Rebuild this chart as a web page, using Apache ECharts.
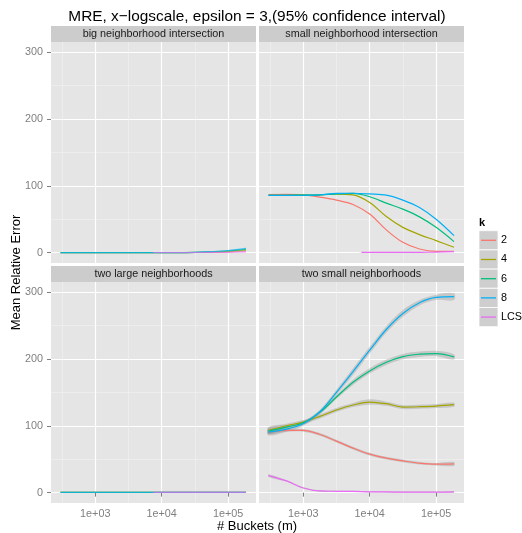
<!DOCTYPE html>
<html><head><meta charset="utf-8">
<script src="https://cdn.jsdelivr.net/npm/echarts@6/dist/echarts.min.js"></script>
<style>html,body{margin:0;padding:0;background:#fff}#c{width:522px;height:533px}</style>
</head><body><div id="c"></div>
<script>
// ---------------- data ----------------
const buckets = [300, 560, 1000, 1780, 3160, 5620, 10000, 17800, 31600, 56200, 100000, 186000];
const lcsBucketsPartial = [7500, 10000, 17800, 31600, 56200, 100000, 186000];
const kLevels = ['2', '4', '6', '8', 'LCS'];
const panelNames = ['big neighborhood intersection', 'small neighborhood intersection', 'two large neighborhoods', 'two small neighborhoods'];
const xTickValues = [1000, 10000, 100000];
const xTickLabels = ['1e+03', '1e+04', '1e+05'];
const xMinorBreaks = [316.2, 3162, 31623];
const yTickValues = [0, 100, 200, 300];
const yTickLabels = ['0', '100', '200', '300'];
const yMinorBreaks = [50, 150, 250];

// big neighborhood intersection
const bigInt_2   = [0, 0, 0, 0, 0, 0, 0, 0.1, 0.2, 0.5, 1.2, 2.5];
const bigInt_4   = [0, 0, 0, 0, 0, 0, 0, 0.1, 0.3, 1.0, 2.0, 4.0];
const bigInt_6   = [0, 0, 0, 0, 0, 0, 0, 0.1, 0.4, 1.2, 2.6, 5.0];
const bigInt_8   = [0, 0, 0, 0, 0, 0, 0, 0.1, 0.5, 1.5, 3.2, 6.5];
const bigInt_LCS = [0.2, 0.2, 0.2, 0.2, 0.3, 0.5, 1.0];
// small neighborhood intersection
const smallInt_2   = [86.7, 87, 86.5, 83, 78.6, 72, 57.7, 34, 15.4, 5.5, 2, 2];
const smallInt_4   = [85.6, 85.8, 86, 86.5, 87.5, 86.5, 75, 54, 37.8, 27, 18, 8];
const smallInt_6   = [85.6, 85.8, 86, 86.5, 88, 88.6, 83.6, 74, 65, 53.5, 37.8, 16.5];
const smallInt_8   = [85.6, 85.6, 85.8, 86.5, 88.5, 88.8, 87.8, 86, 78.6, 67.5, 50, 25.5];
const smallInt_LCS = [0.3, 0.3, 0.3, 0.3, 0.4, 0.8, 1.5];
// two large neighborhoods
const twoLarge_2   = [0.3, 0.3, 0.3, 0.3, 0.3, 0.3, 0.3, 0.3, 0.3, 0.3, 0.3, 0.3];
const twoLarge_4   = [0.3, 0.3, 0.3, 0.3, 0.3, 0.3, 0.3, 0.3, 0.3, 0.3, 0.3, 0.3];
const twoLarge_6   = [0.3, 0.3, 0.3, 0.3, 0.3, 0.3, 0.3, 0.3, 0.3, 0.3, 0.3, 0.3];
const twoLarge_8   = [0.3, 0.3, 0.3, 0.3, 0.3, 0.3, 0.3, 0.3, 0.3, 0.3, 0.3, 0.3];
const twoLarge_LCS = [0.3, 0.3, 0.3, 0.3, 0.3, 0.3, 0.3];
// two small neighborhoods
const twoSmall_2   = [90.5, 93, 93, 87, 77, 66.5, 57.5, 51.5, 47.5, 44, 42.5, 43];
const twoSmall_4   = [93, 100, 105.5, 114, 123.5, 131, 135.5, 133, 128, 128.5, 129.5, 131.5];
const twoSmall_6   = [92, 98, 104.5, 120, 143, 165, 182, 195, 203.5, 207, 208, 203];
const twoSmall_8   = [90.5, 95, 103, 121, 150, 181, 213, 244, 268, 284, 292, 293];
const twoSmall_LCS = [25.5, 17.5, 7, 2.5, 2, 1.8, 1.2, 1, 0.8, 0.7, 0.8, 1];
// two small neighborhoods: half-width of 95% confidence band
const twoSmallCi_2   = [3, 2, 2, 2, 2, 2, 2, 2, 2, 2, 2, 3];
const twoSmallCi_4   = [5, 3, 3, 3, 3, 3, 4, 3, 3, 3, 3, 3];
const twoSmallCi_6   = [5, 3, 3, 3, 3, 4, 4, 4, 4, 4, 4, 4];
const twoSmallCi_8   = [5, 4, 3, 3, 4, 5, 5, 5, 5, 4, 4, 5];
const twoSmallCi_LCS = [2, 1, 1, 1, 1, 1, 1, 1, 1, 1, 1, 1];

// ---------------- build ----------------
const panels = [
  { vals: [bigInt_2, bigInt_4, bigInt_6, bigInt_8, bigInt_LCS], xs: [buckets, buckets, buckets, buckets, lcsBucketsPartial] },
  { vals: [smallInt_2, smallInt_4, smallInt_6, smallInt_8, smallInt_LCS], xs: [buckets, buckets, buckets, buckets, lcsBucketsPartial] },
  { vals: [twoLarge_2, twoLarge_4, twoLarge_6, twoLarge_8, twoLarge_LCS], xs: [buckets, buckets, buckets, buckets, lcsBucketsPartial] },
  { vals: [twoSmall_2, twoSmall_4, twoSmall_6, twoSmall_8, twoSmall_LCS], xs: [buckets, buckets, buckets, buckets, buckets],
    ci: [twoSmallCi_2, twoSmallCi_4, twoSmallCi_6, twoSmallCi_8, twoSmallCi_LCS] }
];
const kColors = ['#F8766D', '#A3A500', '#00BF7D', '#00B0F6', '#E76BF3'];
const FONT = '"Liberation Sans", Arial, Helvetica, sans-serif';
const L = v => Math.log10(v);
const XMIN = 2.334, XMAX = 5.42, YMIN = -15.5, YMAX = 315;
const gridPos = [[51, 42], [259, 42], [51, 282], [259, 282]];
const GW = 205, GH = 221;
const SMOOTH = 0.35;

const grids = [], xAxes = [], yAxes = [], series = [], graphics = [];
gridPos.forEach((p, i) => {
  const bottom = i >= 2, left = (i % 2) === 0;
  grids.push({ left: p[0], top: p[1], width: GW, height: GH, show: true, backgroundColor: '#E5E5E5', borderWidth: 0 });
  const tickVals = xTickValues.map(L);
  xAxes.push({
    gridIndex: i, type: 'value', min: XMIN, max: XMAX,
    axisLine: { show: false },
    axisTick: { show: bottom, customValues: tickVals, length: 4, lineStyle: { color: '#7F7F7F', width: 1 } },
    axisLabel: { show: bottom, customValues: tickVals, margin: 6, color: '#7F7F7F', fontSize: 10.8, fontFamily: FONT,
      formatter: v => { const j = tickVals.findIndex(t => Math.abs(t - v) < 1e-6); return j >= 0 ? xTickLabels[j] : ''; } },
    splitLine: { show: true, lineStyle: { color: '#FFFFFF', width: 1.2 } }
  });
  xAxes.push({
    gridIndex: i, type: 'value', min: XMIN, max: XMAX,
    axisLine: { show: false }, axisLabel: { show: false },
    axisTick: { show: false, customValues: xMinorBreaks.map(L) },
    splitLine: { show: true, lineStyle: { color: '#F2F2F2', width: 0.6 } }
  });
  yAxes.push({
    gridIndex: i, type: 'value', min: YMIN, max: YMAX,
    axisLine: { show: false },
    axisTick: { show: left, customValues: yTickValues, length: 4, lineStyle: { color: '#7F7F7F', width: 1 } },
    axisLabel: { show: left, customValues: yTickValues, margin: 8, color: '#7F7F7F', fontSize: 10.8, fontFamily: FONT,
      formatter: v => { const j = yTickValues.indexOf(v); return j >= 0 ? yTickLabels[j] : ''; } },
    splitLine: { show: true, lineStyle: { color: '#FFFFFF', width: 1.2 } }
  });
  yAxes.push({
    gridIndex: i, type: 'value', min: YMIN, max: YMAX,
    axisLine: { show: false }, axisLabel: { show: false },
    axisTick: { show: false, customValues: yMinorBreaks },
    splitLine: { show: true, lineStyle: { color: '#F2F2F2', width: 0.6 } }
  });

  const pn = panels[i];
  const op = left ? 0.7 : 1;
  if (pn.ci) {
    kLevels.forEach((k, j) => {
      const xs = pn.xs[j], ys = pn.vals[j], ci = pn.ci[j];
      const cnt = xs.length;
      series.push({
        type: 'custom', name: 'ci_' + k, xAxisIndex: 2 * i, yAxisIndex: 2 * i, z: 2, silent: true, clip: true,
        data: xs.map((x, n) => [L(x), ys[n] - ci[n], ys[n] + ci[n]]),
        encode: { x: 0, y: [1, 2] },
        renderItem: (params, api) => {
          if (params.dataIndexInside !== 0) return null;
          const up = [], lo = [];
          for (let n = 0; n < cnt; n++) {
            up.push(api.coord([api.value(0, n), api.value(2, n)]));
            lo.push(api.coord([api.value(0, n), api.value(1, n)]));
          }
          return { type: 'polygon', shape: { points: up.concat(lo.reverse()), smooth: SMOOTH },
            style: { fill: 'rgba(153,153,153,0.4)' } };
        }
      });
    });
  }
  kLevels.forEach((k, j) => {
    const xs = pn.xs[j], ys = pn.vals[j];
    series.push({ type: 'line', name: k, xAxisIndex: 2 * i, yAxisIndex: 2 * i, color: kColors[j],
      data: xs.map((x, n) => [L(x), ys[n]]), smooth: SMOOTH, symbol: 'none', showSymbol: false,
      lineStyle: { width: 1.2, color: kColors[j], opacity: op }, silent: true, z: 3 });
  });

  // strip
  const sy = i >= 2 ? 266 : 26;
  graphics.push({ type: 'rect', shape: { x: p[0], y: sy, width: GW, height: 16 }, style: { fill: '#CCCCCC' }, z: 0 });
  graphics.push({ type: 'text', x: p[0] + GW / 2, y: sy + 8.3, style: { text: panelNames[i], fill: '#1A1A1A', fontSize: 10.8, fontFamily: FONT, align: 'center', verticalAlign: 'middle' }, z: 1 });
});

// legend key backgrounds
kLevels.forEach((k, j) => {
  graphics.push({ type: 'rect', shape: { x: 479, y: 230.7 + 19.2 * j, width: 19, height: 19.2 }, style: { fill: '#CECECE', stroke: '#FFFFFF', lineWidth: 0.8 }, z: 0 });
});
graphics.push({ type: 'text', x: 479, y: 223, style: { text: 'k', fill: '#000', fontSize: 11, fontWeight: 'bold', fontFamily: FONT, align: 'left', verticalAlign: 'middle' }, z: 1 });
// titles
graphics.push({ type: 'text', x: 257, y: 17, style: { text: 'MRE, x\u2212logscale, epsilon = 3,(95% confidence interval)', fill: '#000', fontSize: 15.4, fontFamily: FONT, align: 'center', verticalAlign: 'middle' }, z: 1 });
graphics.push({ type: 'text', x: 257, y: 526.5, style: { text: '# Buckets (m)', fill: '#000', fontSize: 13, fontFamily: FONT, align: 'center', verticalAlign: 'middle' }, z: 1 });
graphics.push({ type: 'text', x: 16, y: 272.5, rotation: Math.PI / 2, style: { text: 'Mean Relative Error', fill: '#000', fontSize: 13, fontFamily: FONT, align: 'center', verticalAlign: 'middle' }, z: 1 });

const chart = echarts.init(document.getElementById('c'), null, { renderer: 'canvas' });
chart.setOption({
  animation: false,
  backgroundColor: '#FFFFFF',
  grid: grids, xAxis: xAxes, yAxis: yAxes, series: series,
  legend: {
    data: kLevels.map(n => ({ name: n, icon: 'rect' })),
    orient: 'vertical', left: 481, top: 230.7, padding: 0, itemWidth: 15, itemHeight: 1.3, itemGap: 0,
    selectedMode: false, z: 10,
    textStyle: { fontSize: 10.8, color: '#000', fontFamily: FONT, lineHeight: 19.2 }
  },
  graphic: { elements: graphics }
});
</script>
</body></html>
